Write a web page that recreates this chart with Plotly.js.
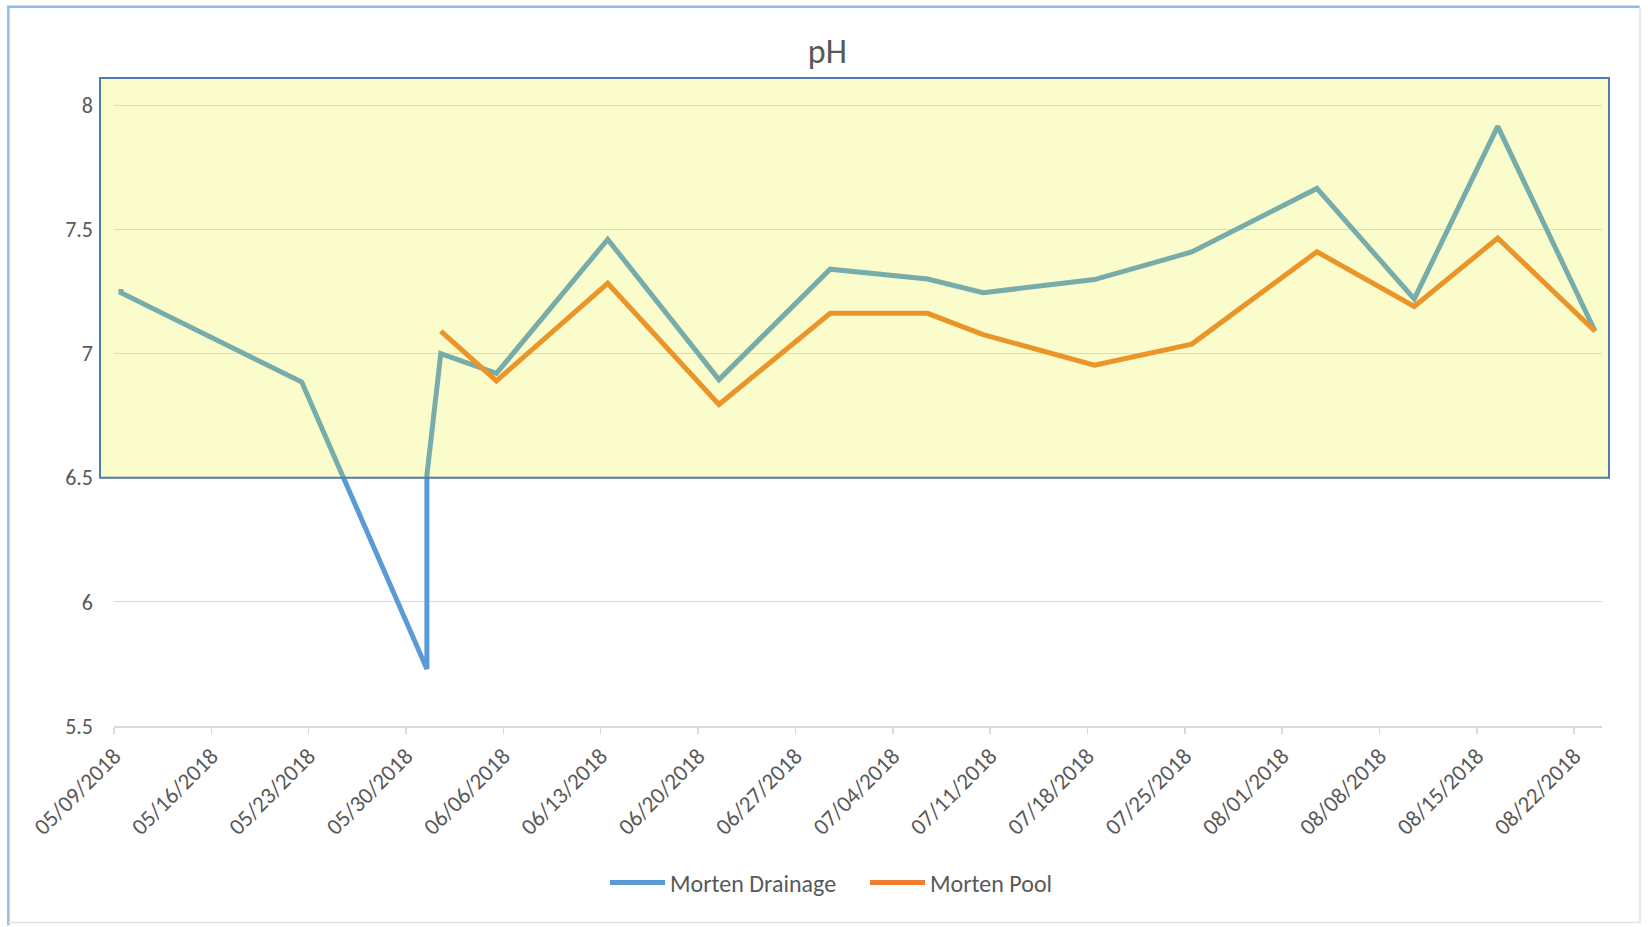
<!DOCTYPE html>
<html>
<head>
<meta charset="utf-8">
<script src="https://cdn.plot.ly/plotly-3.0.1.min.js"></script>
<style>
  html, body { margin: 0; padding: 0; background: #ffffff; }
  #chart { width: 1648px; height: 927px; }
</style>
</head>
<body>
<div id="chart"></div>
<script>
// ---- data ----
const drainageDates = ['2018-05-09', '2018-05-09', '2018-05-22', '2018-05-31', '2018-05-31',
  '2018-06-01', '2018-06-05', '2018-06-13', '2018-06-21', '2018-06-29', '2018-07-06',
  '2018-07-10', '2018-07-18', '2018-07-25', '2018-08-03', '2018-08-10', '2018-08-16', '2018-08-23'];
const drainagePH = [7.26, 7.245, 6.885, 5.73, 6.51,
  7.00, 6.92, 7.46, 6.895, 7.34, 7.30,
  7.245, 7.298, 7.409, 7.665, 7.22, 7.915, 7.09];

const poolDates = ['2018-06-01', '2018-06-05', '2018-06-13', '2018-06-21', '2018-06-29',
  '2018-07-06', '2018-07-10', '2018-07-18', '2018-07-25', '2018-08-03', '2018-08-10',
  '2018-08-16', '2018-08-23'];
const poolPH = [7.09, 6.89, 7.283, 6.795, 7.162,
  7.162, 7.076, 6.953, 7.038, 7.41, 7.19,
  7.465, 7.09];

const tickDates = ['2018-05-09', '2018-05-16', '2018-05-23', '2018-05-30', '2018-06-06',
  '2018-06-13', '2018-06-20', '2018-06-27', '2018-07-04', '2018-07-11', '2018-07-18',
  '2018-07-25', '2018-08-01', '2018-08-08', '2018-08-15', '2018-08-22'];
const tickLabels = ['05/09/2018', '05/16/2018', '05/23/2018', '05/30/2018', '06/06/2018',
  '06/13/2018', '06/20/2018', '06/27/2018', '07/04/2018', '07/11/2018', '07/18/2018',
  '07/25/2018', '08/01/2018', '08/08/2018', '08/15/2018', '08/22/2018'];

const seriesNames = ['Morten Drainage', 'Morten Pool'];
const bandLow = 6.5;   // acceptable pH band
const bandHigh = 8.11;

// Excel date axis centres each point in the middle of its day slot
const midDay = d => d + ' 12:00';

const FONT = 'Carlito, "Open Sans", "Liberation Sans", sans-serif';
const TXT = '#595959';

const traces = [
  {
    x: drainageDates.map(midDay), y: drainagePH, name: seriesNames[0],
    type: 'scatter', mode: 'lines',
    line: { color: '#5b9bd5', width: 5 }
  },
  {
    x: poolDates.map(midDay), y: poolPH, name: seriesNames[1],
    type: 'scatter', mode: 'lines',
    line: { color: '#ed7d31', width: 5 }
  }
];

const layout = {
  width: 1648, height: 927,
  margin: { l: 114, r: 46, t: 73, b: 201, pad: 0 },
  paper_bgcolor: '#ffffff', plot_bgcolor: '#ffffff',
  font: { family: FONT, size: 22, color: TXT },
  title: {
    text: 'pH', font: { family: FONT, size: 34, color: TXT },
    x: 0.502, xref: 'container', xanchor: 'center',
    y: 1 - 51 / 927, yref: 'container', yanchor: 'middle'
  },
  showlegend: true,
  legend: {
    orientation: 'h', x: 605 / 1648, xref: 'container', xanchor: 'left',
    y: 1 - 883 / 927, yref: 'container', yanchor: 'middle',
    font: { family: FONT, size: 24, color: TXT },
    bgcolor: 'rgba(0,0,0,0)', itemwidth: 55,
    entrywidth: 190, entrywidthmode: 'pixels'
  },
  xaxis: {
    type: 'date',
    range: ['2018-05-09', '2018-08-24'],
    tickmode: 'array', tickvals: tickDates, ticktext: tickLabels,
    tickangle: -45,
    ticks: 'outside', ticklen: 6, tickwidth: 1.5, tickcolor: '#d9d9d9',
    showline: true, linecolor: '#d9d9d9', linewidth: 1.5,
    showgrid: false, zeroline: false,
    tickfont: { family: FONT, size: 23, color: TXT }
  },
  yaxis: {
    range: [5.5, 8.13],
    tick0: 5.5, dtick: 0.5,
    showgrid: true, gridcolor: '#d9d9d9', gridwidth: 1.2,
    showline: false, zeroline: false, ticks: '',
    ticklabelstandoff: 20,
    tickfont: { family: FONT, size: 22, color: TXT }
  },
  shapes: [
    {
      type: 'rect', xref: 'paper', yref: 'y', layer: 'above',
      x0: -0.0094, x1: 1.0047, y0: bandLow, y1: bandHigh,
      fillcolor: 'rgba(230,240,0,0.2)',
      line: { color: '#4f7cab', width: 2 }
    },
    {
      type: 'path', xref: 'paper', yref: 'paper', layer: 'above',
      path: 'M -0.0710 -0.305 L -0.0710 1.1016 L 1.0255 1.1016',
      line: { color: '#8fbbe6', width: 2.5 }
    },
    {
      type: 'path', xref: 'paper', yref: 'paper', layer: 'above',
      path: 'M 1.0255 1.1016 L 1.0255 -0.301 L -0.0710 -0.301',
      line: { color: '#e3e3e3', width: 1.5 }
    }
  ]
};

Plotly.newPlot('chart', traces, layout, { staticPlot: true, displayModeBar: false });
</script>
</body>
</html>
